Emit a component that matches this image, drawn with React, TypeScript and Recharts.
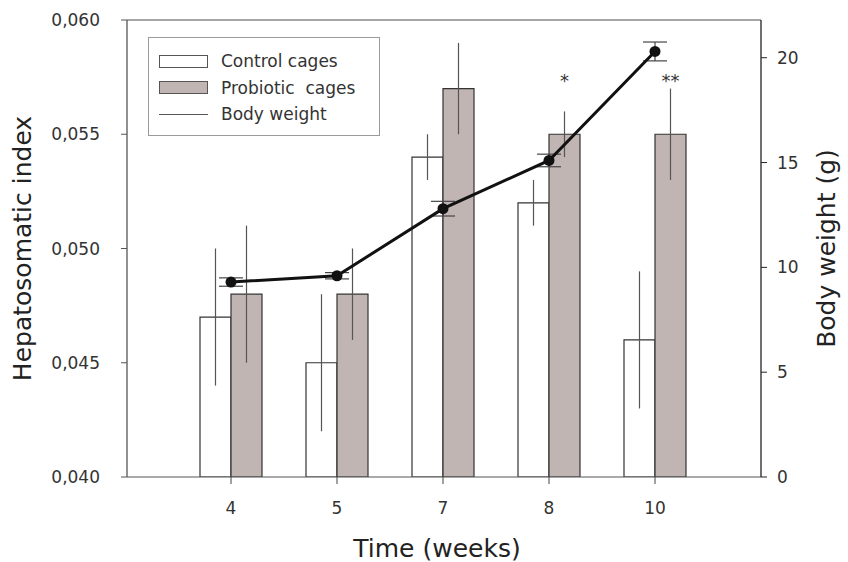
import {
  ComposedChart, Bar, Line, Scatter, XAxis, YAxis, ErrorBar,
  ReferenceLine, Legend
} from 'recharts'

const weeks = ['4', '5', '7', '8', '10']
const controlHsi = [0.047, 0.045, 0.054, 0.052, 0.046]
const controlSd = [0.003, 0.003, 0.001, 0.001, 0.003]
const probioticHsi = [0.048, 0.048, 0.057, 0.055, 0.055]
const probioticSd = [0.003, 0.002, 0.002, 0.001, 0.002]
const bodyWeight = [9.3, 9.6, 12.8, 15.1, 20.3]
const bodyWeightSd = [0.2, 0.15, 0.35, 0.3, 0.45]
const significance = ['', '', '', '*', '**']
const starLevel = 0.0575

const hsiTicks = [0.04, 0.045, 0.05, 0.055, 0.06]
const weightTicks = [0, 5, 10, 15, 20]

const legendItems = [
  { name: 'Control cages', kind: 'box', fill: '#fff' },
  { name: 'Probiotic  cages', kind: 'box', fill: '#c1b5b3' },
  { name: 'Body weight', kind: 'line', fill: '#555' },
]

const data = weeks.map((w, i) => ({
  week: w,
  control: controlHsi[i],
  controlSd: controlSd[i],
  probiotic: probioticHsi[i],
  probioticSd: probioticSd[i],
  weight: bodyWeight[i],
  weightSd: bodyWeightSd[i],
  sig: significance[i],
  star: starLevel,
}))

const font = '"DejaVu Sans", sans-serif'
const tickStyle = { fontSize: 17, fill: '#333', fontFamily: font }

function LegendBox() {
  return (
    <div style={{ border: '1px solid #9a9a9a', background: '#fff', width: 232, height: 99, boxSizing: 'border-box', padding: '10px 0 0 10px' }}>
      {legendItems.map((it, i) => (
        <div key={i} style={{ display: 'flex', alignItems: 'center', height: 26.5, fontSize: 17, color: '#333', fontFamily: font, whiteSpace: 'pre' }}>
          {it.kind === 'box'
            ? <div style={{ width: 47, height: 11, background: it.fill, border: '1px solid #555', marginRight: 13 }} />
            : <div style={{ width: 49, height: 1, background: it.fill, marginRight: 13 }} />}
          <span>{it.name}</span>
        </div>
      ))}
    </div>
  )
}

function StarMark(p: any) {
  if (!p.payload || !p.payload.sig) return <g />
  return (
    <text x={p.cx + 15.5} y={p.cy + 10} textAnchor="middle" fontSize={18} fill="#333" fontFamily={font}>
      {p.payload.sig}
    </text>
  )
}

export default function App() {
  return (
    <div style={{ position: 'absolute', left: 0, top: 0, width: 848, height: 562, background: '#fff', fontFamily: font }}>
      <ComposedChart width={848} height={562} data={data} barGap={0} barSize={31}
        margin={{ top: 20, right: 0, bottom: 0, left: 0 }}>
        <XAxis dataKey="week" height={85} padding={{ left: 51, right: 53 }}
          axisLine={{ stroke: '#555' }} tickLine={{ stroke: '#444' }} tickSize={7} tickMargin={18}
          tick={tickStyle}
          label={{ value: 'Time (weeks)', position: 'insideBottom', offset: 5, dx: -7, style: { fontSize: 25, fill: '#222', fontFamily: font } }} />
        <YAxis yAxisId="left" width={127} domain={[0.04, 0.06]} ticks={hsiTicks} allowDataOverflow
          tickFormatter={(v: number) => v.toFixed(3).replace('.', ',')}
          axisLine={{ stroke: '#555', strokeWidth: 1.3 }} tickLine={{ stroke: '#555' }} tickSize={6} tickMargin={21}
          tick={tickStyle}
          label={{ value: 'Hepatosomatic index', angle: -90, position: 'insideLeft', offset: 22, style: { textAnchor: 'middle', fontSize: 25, fill: '#222', fontFamily: font } }} />
        <YAxis yAxisId="right" orientation="right" width={87} domain={[0, 21.8]} ticks={weightTicks} allowDataOverflow
          axisLine={{ stroke: '#222', strokeWidth: 1.3 }} tickLine={{ stroke: '#222' }} tickSize={6} tickMargin={10}
          tick={tickStyle}
          label={{ value: 'Body weight (g)', angle: -90, position: 'insideRight', offset: 22, style: { textAnchor: 'middle', fontSize: 25, fill: '#222', fontFamily: font } }} />
        <ReferenceLine yAxisId="left" y={0.06} stroke="#888" strokeWidth={1.3} />
        <Legend layout="horizontal" verticalAlign="middle" align="center" content={<LegendBox />}
          wrapperStyle={{ left: 148, top: 37, width: 232, height: 99 }} />

        <Bar yAxisId="left" dataKey="control" fill="#fff" stroke="#333" strokeWidth={1.2} isAnimationActive={false}>
          <ErrorBar dataKey="controlSd" width={0} stroke="#555" strokeWidth={1.2} />
        </Bar>
        <Bar yAxisId="left" dataKey="probiotic" fill="#c1b5b3" stroke="#333" strokeWidth={1.2} isAnimationActive={false}>
          <ErrorBar dataKey="probioticSd" width={0} stroke="#555" strokeWidth={1.2} />
        </Bar>
        <Line yAxisId="right" dataKey="weight" stroke="#111" strokeWidth={3}
          dot={{ r: 5.5, fill: '#111', stroke: '#111', strokeWidth: 0 }} isAnimationActive={false}>
          <ErrorBar dataKey="weightSd" width={12} stroke="#444" strokeWidth={1.2} />
        </Line>
        <Scatter yAxisId="left" dataKey="star" shape={<StarMark />} isAnimationActive={false} />
      </ComposedChart>
    </div>
  )
}
